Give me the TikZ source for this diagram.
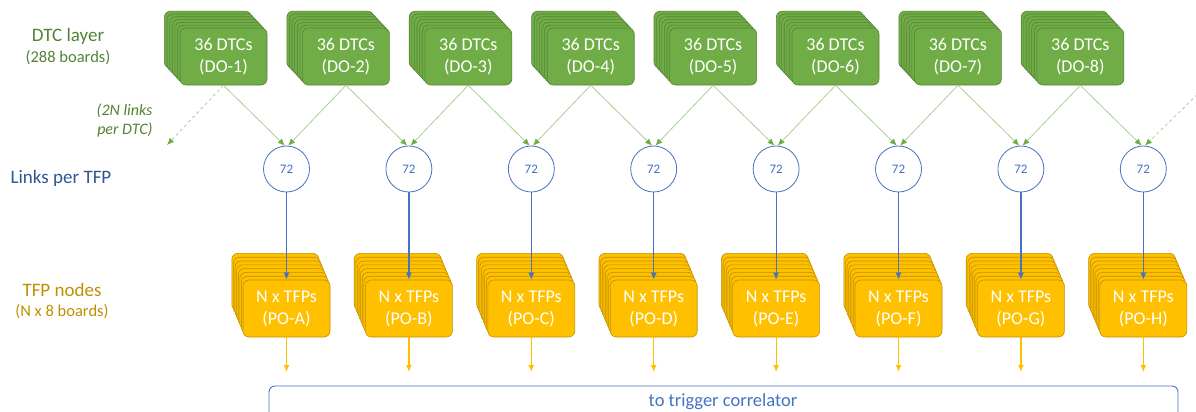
\documentclass[tikz,border=0pt]{standalone}
\usepackage{fontspec}
\setmainfont{Carlito}
\usetikzlibrary{arrows.meta}
\definecolor{dtcgreen}{HTML}{70AD47}
\definecolor{dtcdark}{HTML}{548235}
\definecolor{linkgreen}{HTML}{A9D18E}
\definecolor{tfpblue}{HTML}{4472C4}
\definecolor{labelblue}{HTML}{2F5597}
\definecolor{tfpgold}{HTML}{FFC000}
\definecolor{tfpdark}{HTML}{BF9000}
\tikzset{
  dtcbox/.style={draw=dtcdark, fill=dtcgreen, rounded corners=6pt, line width=0.6pt,
    minimum width=87pt, minimum height=57pt, inner sep=0pt, text=white,
    align=center, font=\fontsize{18}{22}\selectfont},
  tfpbox/.style={dtcbox, draw=tfpdark, fill=tfpgold},
  linkcirc/.style={circle, draw=tfpblue, fill=white, minimum size=46pt, inner sep=0pt,
    line width=0.8pt, text=tfpblue, font=\fontsize{13}{15}\selectfont},
  dtclink/.style={draw=linkgreen, line width=0.8pt,
    -{Latex[length=7pt,width=6pt,color=dtcgreen]}},
  tfplink/.style={draw=tfpblue, line width=1.2pt, -{Latex[length=7pt,width=6pt]}},
  outlink/.style={draw=tfpgold, line width=1.2pt, -{Latex[length=7pt,width=6pt]}},
}
\begin{document}
\begin{tikzpicture}[x=1pt, y=-1pt]
  \useasboundingbox (0,0) rectangle (1196,412);
  \clip (0,0) rectangle (1196,412);
  % left labels
  \node[text=dtcdark, font=\fontsize{19}{22}\selectfont] (dtclabel) at (68,36) {DTC layer};
  \node[text=dtcdark, font=\fontsize{16.5}{20}\selectfont] (dtcnum) at (68,58) {(288 boards)};
  \node[text=dtcdark, font=\fontsize{16}{19}\itshape, align=right, anchor=east]
    (perdtc) at (156,120) {(2N links\\per DTC)};
  \node[text=labelblue, font=\fontsize{19}{22}\selectfont] (tfplabel) at (61,178) {Links per TFP};
  \node[text=tfpdark, font=\fontsize{19}{22}\selectfont] (tfpnodes) at (62,290) {TFP nodes};
  \node[text=tfpdark, font=\fontsize{16.5}{20}\selectfont] (tfpnum) at (62,312) {(N x 8 boards)};
  % stacks of boards, link circles
  \foreach \i/\l in {1/A,2/B,3/C,4/D,5/E,6/F,7/G,8/H} {
    \pgfmathsetmacro{\xd}{223.5+122.4*(\i-1)}
    \pgfmathsetmacro{\xt}{286.5+122.4*(\i-1)}
    \foreach \k in {6,...,1}
      \node[dtcbox] at (\xd-2.6*\k, 56.5-2.8*\k) {};
    \node[dtcbox] (d\i) at (\xd,56.5) {36 DTCs\\(DO-\i)};
    \foreach \k in {7,...,1}
      \node[tfpbox] at (\xt-1.6*\k, 308.5-3.8*\k) {};
    \node[tfpbox] (t\i) at (\xt,308.5) {N x TFPs\\(PO-\l)};
    \node[linkcirc] (c\i) at (\xt,169) {72};
    \coordinate (o\i) at (\xt,372);
  }
  % DTC -> TFP links
  \coordinate (leftend) at (167,145);
  \coordinate (rightstart) at (1206,86);
  \draw[dtclink, dashed] (d1.south) -- (leftend);
  \draw[dtclink, dashed] (rightstart) -- (c8.86);
  \foreach \i [evaluate=\i as \j using int(\i-1)] in {2,...,8}
    \draw[dtclink] (d\i.south) -- (c\j.86);
  \foreach \i in {1,...,8} {
    \draw[dtclink] (d\i.south) -- (c\i.94);
    \draw[tfplink] (c\i.south) -- (t\i.north);
    \draw[outlink] (t\i.south) -- (o\i);
  }
  % trigger correlator
  \draw[draw=tfpblue, line width=0.9pt, rounded corners=6pt] (269,386) rectangle (1178,440);
  \node[text=tfpblue, font=\fontsize{18.5}{22}\selectfont] (corr) at (723,402) {to trigger correlator};
\end{tikzpicture}
\end{document}
